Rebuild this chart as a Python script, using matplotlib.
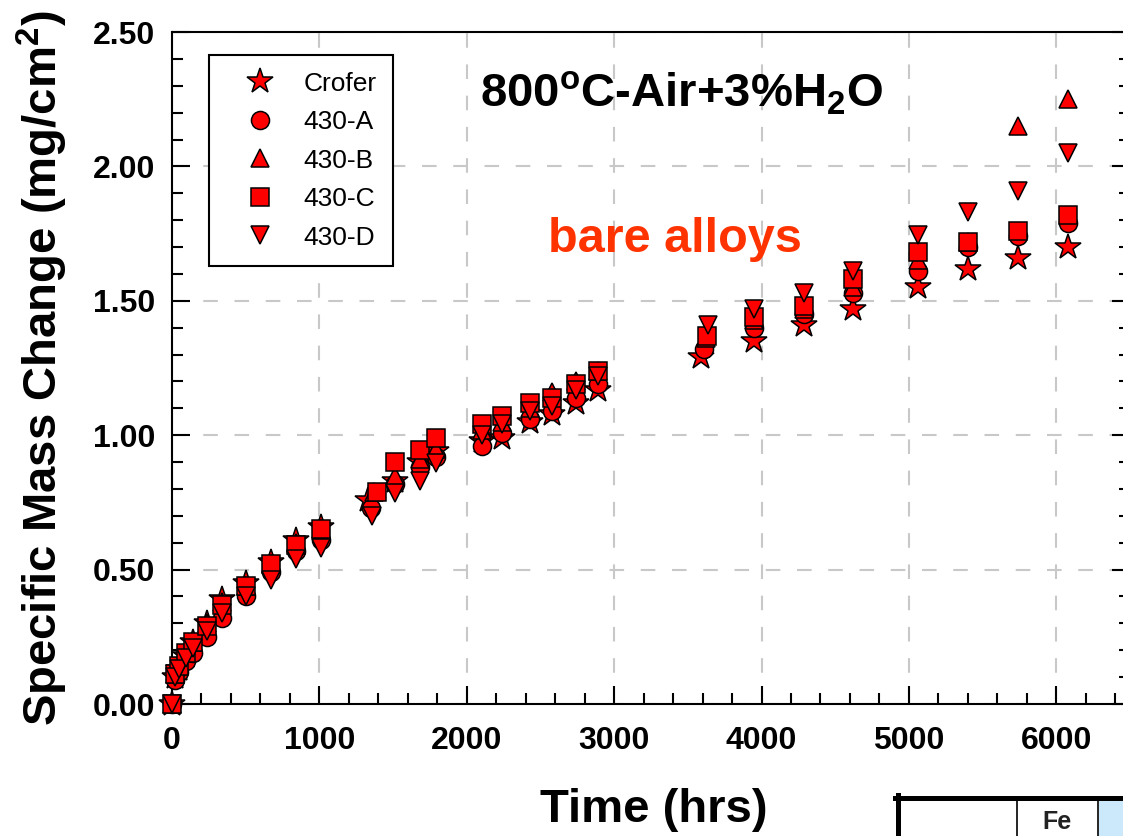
import numpy as np
import matplotlib
matplotlib.use('Agg')
import matplotlib.pyplot as plt
from matplotlib.patches import Rectangle
from matplotlib.ticker import MultipleLocator

plt.rcParams['font.family'] = 'Liberation Sans'
plt.rcParams['mathtext.fontset'] = 'custom'
plt.rcParams['mathtext.rm'] = 'Liberation Sans:bold'
plt.rcParams['mathtext.bf'] = 'Liberation Sans:bold'
plt.rcParams['mathtext.it'] = 'Liberation Sans:bold'
plt.rcParams['mathtext.default'] = 'rm'

# exposure times (hrs) per alloy
t_crofer = [0, 20, 48, 96, 144, 240, 336, 504, 672, 840, 1008, 1330, 1512, 1680, 1790,
            2100, 2240, 2430, 2580, 2740, 2890, 3590, 3950, 4290, 4620, 5060, 5400, 5740, 6080]
t_430a = [0, 20, 48, 96, 144, 240, 336, 504, 672, 840, 1008, 1350, 1512, 1680, 1790,
          2100, 2240, 2430, 2580, 2740, 2890, 3610, 3950, 4290, 4620, 5060, 5400, 5740, 6080]
t_430b = [0, 20, 48, 96, 144, 240, 336, 504, 672, 840, 1008, 1370, 1512, 1680, 1790,
          2100, 2240, 2430, 2580, 2740, 2890, 3620, 3950, 4290, 4620, 5060, 5400, 5740, 6080]
t_430c = [0, 20, 48, 96, 144, 240, 336, 504, 672, 840, 1008, 1390, 1512, 1680, 1790,
          2100, 2240, 2430, 2580, 2740, 2890, 3630, 3950, 4290, 4620, 5060, 5400, 5740, 6080]
t_430d = [0, 20, 48, 96, 144, 240, 336, 504, 672, 840, 1008, 1360, 1512, 1680, 1790,
          2100, 2240, 2430, 2580, 2740, 2890, 3640, 3950, 4290, 4620, 5060, 5400, 5740, 6080]

# specific mass change (mg/cm2)
m_crofer = [0, 0.10, 0.13, 0.18, 0.23, 0.30, 0.39, 0.45, 0.53, 0.61, 0.66, 0.76, 0.83, 0.90, 0.94,
            0.98, 0.99, 1.05, 1.08, 1.12, 1.17, 1.29, 1.35, 1.41, 1.47, 1.55, 1.62, 1.66, 1.70]
m_430a = [0, 0.09, 0.12, 0.16, 0.19, 0.25, 0.32, 0.40, 0.49, 0.57, 0.61, 0.73, 0.82, 0.88, 0.92,
          0.96, 1.01, 1.06, 1.09, 1.14, 1.19, 1.32, 1.40, 1.45, 1.53, 1.61, 1.70, 1.74, 1.79]
m_430b = [0, 0.11, 0.14, 0.19, 0.23, 0.30, 0.38, 0.44, 0.52, 0.60, 0.65, 0.79, 0.85, 0.91, 0.95,
          1.02, 1.05, 1.10, 1.16, 1.20, 1.24, 1.36, 1.43, 1.47, 1.55, 1.65, 1.72, 2.15, 2.25]
m_430c = [0, 0.11, 0.14, 0.19, 0.23, 0.29, 0.37, 0.44, 0.52, 0.59, 0.65, 0.79, 0.90, 0.945, 0.99,
          1.04, 1.07, 1.12, 1.14, 1.19, 1.24, 1.37, 1.44, 1.48, 1.58, 1.68, 1.72, 1.76, 1.82]
m_430d = [0, 0.10, 0.13, 0.17, 0.21, 0.27, 0.34, 0.40, 0.46, 0.54, 0.58, 0.70, 0.785, 0.83, 0.895,
          1.00, 1.04, 1.09, 1.11, 1.17, 1.22, 1.41, 1.47, 1.53, 1.61, 1.745, 1.83, 1.91, 2.05]

names = ['Crofer', '430-A', '430-B', '430-C', '430-D']
times = [t_crofer, t_430a, t_430b, t_430c, t_430d]
masses = [m_crofer, m_430a, m_430b, m_430c, m_430d]
markers = [('*', 19), ('o', 13), ('^', 13.5), ('s', 12.5), ('v', 13.5)]

fig = plt.figure(figsize=(11.23, 8.36), dpi=100)
# right part of the axes runs past the figure edge, as in the source
ax = fig.add_axes([0.15316, 0.15789, 0.85307, 0.80383])

for i, (name, t, m, (mk, ms)) in enumerate(zip(names, times, masses, markers)):
    ax.plot(t, m, ls='none', marker=mk, ms=ms, mfc='red', mec='black', mew=1.1,
            label=name, clip_on=False, zorder=3 + 0.1 * i)

ax.set_xlim(0, 6500)
ax.set_ylim(0, 2.5)
ax.set_xticks(np.arange(0, 6001, 1000))
ax.xaxis.set_minor_locator(MultipleLocator(200))
ax.set_yticks(np.arange(0, 2.51, 0.5))
ax.yaxis.set_minor_locator(MultipleLocator(0.1))
ax.set_yticklabels(['%.2f' % v for v in np.arange(0, 2.51, 0.5)])
ax.tick_params(which='both', direction='in', right=True, top=False, width=1.5)
ax.tick_params(which='major', length=13)
ax.tick_params(which='minor', length=8)
ax.tick_params(axis='both', labelsize=23)
ax.tick_params(axis='x', pad=16)
ax.tick_params(axis='y', pad=12)
for lab in ax.get_xticklabels() + ax.get_yticklabels():
    lab.set_fontweight('bold')
for sp in ax.spines.values():
    sp.set_linewidth(1.5)

ax.grid(True, which='major', color='#c8c8c8', lw=1.5, ls=(0, (7, 8)))
ax.set_axisbelow(True)

ax.set_xlabel('Time (hrs)', fontsize=34, fontweight='bold')
ax.xaxis.set_label_coords(0.503, -0.125)
ax.set_ylabel('Specific Mass Change (mg/cm$^{2}$)', fontsize=34, fontweight='bold')
ax.yaxis.set_label_coords(-0.106, 0.5)

ax.text(0.3215, 0.888, r'800$^{o}$C-Air+3%H$_{2}$O', transform=ax.transAxes,
        fontsize=34, fontweight='bold', va='baseline', ha='left')
ax.text(0.3925, 0.6726, 'bare alloys', transform=ax.transAxes, fontsize=35,
        fontweight='bold', color='#ff3300', va='baseline', ha='left')

leg = ax.legend(loc='upper left', bbox_to_anchor=(0.0386, 0.9658), borderaxespad=0,
                frameon=True, fancybox=False, edgecolor='black', framealpha=1,
                fontsize=19, borderpad=0.63, handlelength=2.6, handletextpad=0.35,
                labelspacing=0.55)
leg.get_frame().set_linewidth(1.5)

# corner of the table that sits below the chart
ov = fig.add_axes([0, 0, 1, 1])
ov.set_xlim(0, 1123)
ov.set_ylim(836, 0)
ov.axis('off')
ov.add_patch(Rectangle((1099, 799), 30, 40, color='#cce8fb', lw=0))
ov.plot([895, 1130], [797.5, 797.5], color='black', lw=3.6)
ov.plot([897.5, 897.5], [795, 840], color='black', lw=3.6)
ov.plot([1017, 1017], [797, 840], color='black', lw=1.2)
ov.plot([1098, 1098], [797, 840], color='black', lw=1.2)
ov.text(1057, 822, 'Fe', ha='center', va='center', fontsize=18, fontweight='bold',
        color='#222222')

fig.savefig('out.png', dpi=100)
